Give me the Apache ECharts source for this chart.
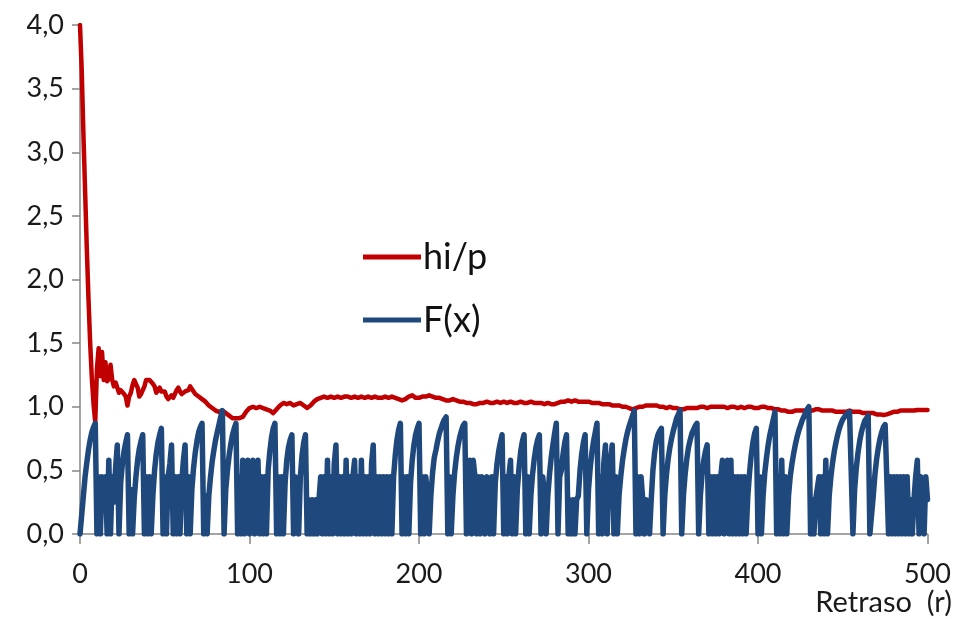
<!DOCTYPE html>
<html><head><meta charset="utf-8">
<script src="https://cdn.jsdelivr.net/npm/echarts@6/dist/echarts.min.js"></script>
<style>html,body{margin:0;padding:0;background:#fff}#c{width:954px;height:619px}</style>
</head><body><div id="c"></div>
<script>
// F(x) value at each lag r = 0..500
const fx = [
0,0.15,0.30,0.45,0.56,0.66,0.74,0.80,0.84,0.87,
0,0.45,0,0.45,0.30,0.45,0,0.58,0,0.45,
0.25,0.52,0.70,0,0.40,0.55,0.65,0.72,0.78,0,
0.35,0,0.28,0.45,0.58,0.67,0.73,0.78,0,0.45,
0,0.45,0,0.30,0.50,0.63,0.72,0.78,0.83,0,
0.45,0,0.45,0.55,0.70,0,0.45,0,0.45,0,
0.40,0.58,0.70,0,0.45,0,0.35,0.52,0.64,0.73,
0.80,0.84,0.87,0,0.30,0,0.30,0.45,0.57,0.66,
0.74,0.80,0.86,0.92,0.97,0,0.35,0.50,0.62,0.71,
0.78,0.83,0.87,0,0.45,0,0.58,0,0.45,0.58,
0,0.45,0.58,0,0.45,0.58,0,0.45,0,0.45,
0,0.50,0.65,0.76,0.83,0.87,0,0.45,0,0.45,
0,0.40,0.58,0.68,0.74,0.78,0,0.45,0.45,0,
0.45,0.62,0.72,0.78,0,0.27,0,0.27,0,0.27,
0,0.27,0.45,0,0.45,0,0.58,0,0.45,0,
0.55,0.70,0,0.45,0,0.45,0,0.58,0,0.45,
0,0.45,0.58,0,0.45,0,0.58,0,0.45,0,
0.45,0,0.55,0.70,0,0.45,0,0.45,0,0.45,
0,0.45,0,0.45,0,0.45,0.62,0.74,0.82,0.87,
0,0.45,0,0.45,0,0.40,0.58,0.70,0.78,0.83,
0.87,0,0.45,0,0.45,0.30,0,0.30,0.48,0.60,
0.66,0.73,0.79,0.83,0.87,0.90,0.92,0,0.45,0,
0.30,0.48,0.60,0.69,0.76,0.81,0.85,0.87,0,0.45,
0.58,0,0.58,0.45,0,0.45,0,0.45,0.45,0,
0.45,0.45,0,0.45,0,0.40,0.55,0.65,0.72,0.78,
0,0.45,0,0.45,0.58,0,0.45,0,0.35,0.52,
0.65,0.73,0.78,0,0.45,0,0.30,0.47,0.59,0.68,
0.74,0.78,0,0.45,0.30,0,0.30,0.47,0.60,0.70,
0.79,0.87,0,0.45,0.50,0.63,0.72,0.78,0,0.27,
0,0.27,0,0.27,0.30,0.50,0.63,0.72,0.78,0,
0.35,0.52,0.64,0.73,0.80,0.87,0,0.45,0,0.55,
0.70,0,0.45,0.58,0.70,0,0.45,0,0.30,0.45,
0.57,0.66,0.74,0.80,0.85,0.89,0.93,0.97,0,0.45,
0,0.45,0.27,0,0.27,0.27,0,0.27,0.50,0.64,
0.73,0.78,0.81,0.83,0,0.30,0.47,0.59,0.68,0.75,
0.81,0.86,0.91,0.94,0.97,0,0.30,0.47,0.59,0.68,
0.74,0.79,0.82,0.85,0.87,0,0.30,0.47,0.58,0.65,
0.70,0,0.45,0,0.45,0,0.45,0,0.45,0.58,
0,0.45,0.58,0,0.58,0,0.45,0,0.45,0,
0.45,0,0.45,0,0.30,0.48,0.62,0.72,0.79,0.83,
0,0.45,0,0.30,0.48,0.60,0.70,0.78,0.84,0.90,
0.96,0,0.45,0,0.58,0,0.45,0,0.30,0.45,
0.55,0.63,0.70,0.76,0.81,0.85,0.89,0.92,0.95,0.98,
1.00,0,0.27,0,0.27,0.27,0.45,0,0.45,0,
0.58,0,0.30,0.45,0.56,0.65,0.72,0.78,0.83,0.87,
0.90,0.92,0.94,0.95,0.96,0.97,0,0.35,0.52,0.64,
0.73,0.80,0.85,0.89,0.91,0.93,0,0,0.30,0.47,
0.59,0.68,0.75,0.80,0.84,0.86,0.87,0,0.45,0,
0.45,0,0.45,0,0.45,0,0.45,0,0.45,0,
0.27,0,0.27,0.45,0.58,0,0.45,0.45,0,0.45,
0.27
];

// hi/p curve
const hipX = [
0,1,2,3,4,5,6,7,8,9,10,11,12,13,14,15,16,17,18,19,
20,21,22,23,24,25,26,27,28,29,30,31,32,33,34,35,36,37,38,39,
40,41,42,43,44,45,46,47,48,49,50,51,52,53,54,55,56,57,58,59,
60,61,62,63,64,65,66,67,68,69,70,71,72,73,74,76,78,80,82,84,
86,88,90,92,94,96,98,100,102,104,106,108,110,112,114,116,118,120,122,124,
126,128,130,132,134,136,138,140,142,144,146,148,150,152,154,156,158,160,162,164,
166,168,170,172,174,176,178,180,182,184,186,188,190,192,194,196,198,200,202,204,
206,208,210,212,214,216,218,220,222,224,226,228,230,232,234,236,238,240,242,244,
246,248,250,252,254,256,258,260,262,264,266,268,270,272,274,276,278,280,282,284,
286,288,290,292,294,296,298,300,302,304,306,308,310,312,314,316,318,320,322,324,
326,328,330,332,334,336,338,340,342,344,346,348,350,352,354,356,358,360,362,364,
366,368,370,372,374,376,378,380,382,384,386,388,390,392,394,396,398,400,402,404,
406,408,410,412,414,416,418,420,422,424,426,428,430,432,434,436,438,440,442,444,
446,448,450,452,454,456,458,460,462,464,466,468,470,472,474,476,478,480,482,484,
486,488,490,492,494,496,498,500
];
const hipY = [
4.00,3.65,3.15,2.70,2.25,1.85,1.50,1.22,1.02,0.88,1.30,1.46,1.24,1.43,1.21,1.35,1.20,1.22,1.33,1.21,
1.16,1.19,1.18,1.11,1.13,1.13,1.10,1.08,1.01,1.08,1.11,1.17,1.21,1.18,1.15,1.08,1.10,1.11,1.16,1.21,
1.20,1.21,1.21,1.18,1.16,1.11,1.13,1.15,1.12,1.13,1.12,1.08,1.06,1.05,1.09,1.07,1.10,1.13,1.15,1.12,
1.10,1.09,1.12,1.12,1.13,1.16,1.14,1.13,1.10,1.09,1.08,1.09,1.06,1.05,1.04,1.01,0.99,0.97,0.96,0.97,
0.95,0.93,0.91,0.91,0.91,0.92,0.96,0.99,1.00,0.99,1.00,0.99,0.98,0.97,0.95,0.98,1.01,1.03,1.02,1.03,
1.01,1.02,1.03,1.01,0.99,1.01,1.04,1.06,1.07,1.08,1.07,1.08,1.07,1.08,1.07,1.08,1.08,1.07,1.08,1.07,
1.08,1.07,1.08,1.07,1.08,1.07,1.07,1.08,1.07,1.08,1.07,1.06,1.05,1.06,1.08,1.09,1.07,1.07,1.08,1.08,
1.09,1.08,1.07,1.07,1.06,1.05,1.05,1.06,1.05,1.04,1.04,1.03,1.03,1.02,1.02,1.03,1.03,1.04,1.03,1.03,
1.04,1.03,1.04,1.03,1.04,1.03,1.03,1.04,1.03,1.03,1.04,1.03,1.03,1.03,1.02,1.03,1.02,1.02,1.03,1.04,
1.04,1.05,1.04,1.05,1.04,1.04,1.04,1.04,1.03,1.03,1.03,1.02,1.02,1.02,1.01,1.01,1.01,1.00,1.00,0.99,
0.98,0.99,1.00,1.00,1.01,1.01,1.01,1.01,1.00,1.00,0.99,1.00,0.99,0.99,0.98,0.98,0.99,0.99,0.99,0.99,
1.00,1.00,0.99,1.00,1.00,1.00,1.00,1.00,0.99,1.00,1.00,0.99,1.00,0.99,1.00,1.00,0.99,0.99,1.00,1.00,
0.99,0.99,0.98,0.98,0.97,0.97,0.96,0.96,0.97,0.97,0.97,0.97,0.97,0.97,0.98,0.98,0.97,0.97,0.97,0.97,
0.96,0.96,0.96,0.96,0.97,0.96,0.96,0.96,0.95,0.95,0.95,0.95,0.94,0.94,0.935,0.94,0.95,0.96,0.96,0.97,
0.97,0.97,0.97,0.97,0.975,0.975,0.975,0.975
];

const yTickLabels = ['0,0','0,5','1,0','1,5','2,0','2,5','3,0','3,5','4,0'];
const xTickLabels = ['0','100','200','300','400','500'];
const seriesNames = ['hi/p','F(x)'];
const xAxisTitle = 'Retraso  (r)';

const FONT = 'Lato';
const axisGray = '#868686';
const chart = echarts.init(document.getElementById('c'), null, {renderer:'canvas'});
chart.setOption({
  animation: false,
  backgroundColor: '#ffffff',
  grid: {left: 80, right: 25, top: 25, bottom: 85, containLabel: false},
  legend: {
    data: seriesNames,
    orient: 'vertical',
    left: 358, top: 234,
    icon: 'rect',
    itemWidth: 58, itemHeight: 5,
    itemGap: 27,
    selectedMode: false,
    textStyle: {fontFamily: FONT, fontSize: 36, color: '#111', padding: [0,0,0,-3]}
  },
  xAxis: {
    type: 'value', min: 0, max: 500, interval: 100,
    axisLine: {show: true, lineStyle: {color: axisGray, width: 1.5}},
    axisTick: {show: true, length: 10, lineStyle: {color: axisGray, width: 1.5}},
    splitLine: {show: false},
    axisLabel: {fontFamily: FONT, fontSize: 27, color: '#1a1a1a', margin: 27,
      formatter: v => xTickLabels[Math.round(v/100)]}
  },
  yAxis: {
    type: 'value', min: 0, max: 4, interval: 0.5,
    axisLine: {show: true, lineStyle: {color: axisGray, width: 1.5}},
    axisTick: {show: true, length: 8, lineStyle: {color: axisGray, width: 1.5}},
    splitLine: {show: false},
    axisLabel: {fontFamily: FONT, fontSize: 27, color: '#1a1a1a', margin: 16,
      formatter: v => yTickLabels[Math.round(v/0.5)]}
  },
  graphic: [{
    type: 'text', right: 2, top: 588,
    style: {text: xAxisTitle, font: '29px Lato', fill: '#1a1a1a'}
  }],
  series: [
    {name: seriesNames[0], type: 'line', symbol: 'none', showSymbol: false, z: 2,
     data: hipX.map((x,i) => [x, hipY[i]]),
     itemStyle: {color: '#C00000'},
     lineStyle: {color: '#C00000', width: 4.5, join: 'round', cap: 'round'}},
    {name: seriesNames[1], type: 'line', symbol: 'none', showSymbol: false, z: 3,
     data: fx.map((v,i) => [i, v]),
     itemStyle: {color: '#1F497D'},
     lineStyle: {color: '#1F497D', width: 5.5, join: 'round', cap: 'round'}}
  ]
});
</script>
</body></html>
